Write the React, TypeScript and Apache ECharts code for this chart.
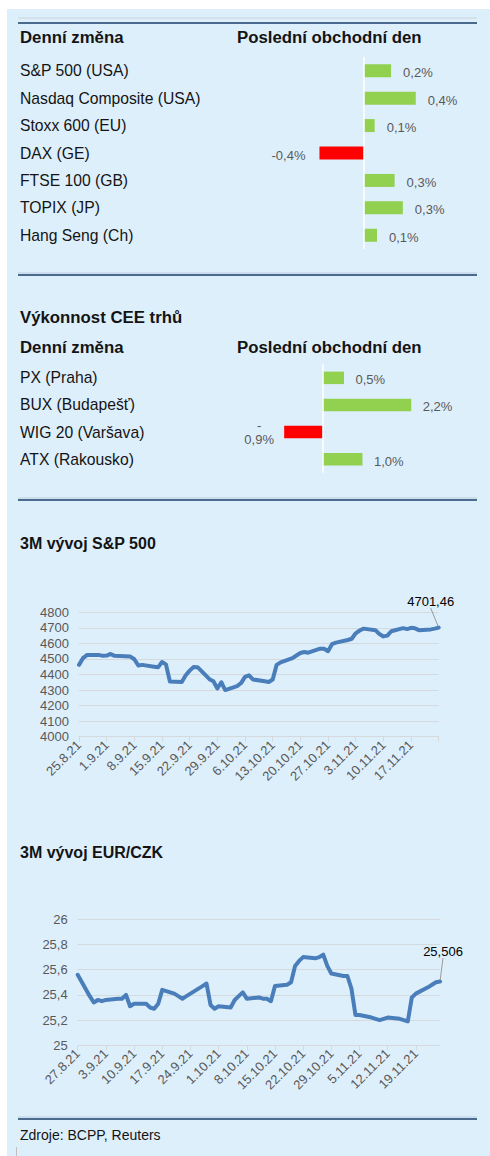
import React, { useEffect, useRef } from 'react';
import * as echarts from 'echarts';

const topNames = ['S&P 500 (USA)', 'Nasdaq Composite (USA)', 'Stoxx 600 (EU)', 'DAX (GE)', 'FTSE 100 (GB)', 'TOPIX (JP)', 'Hang Seng (Ch)'];
const topValues = [0.23, 0.44, 0.09, -0.38, 0.26, 0.33, 0.11];

const ceeNames = ['PX (Praha)', 'BUX (Budapešť)', 'WIG 20 (Varšava)', 'ATX (Rakousko)'];
const ceeValues = [0.52, 2.16, -0.94, 0.97];

const spDates = [
  '25.8.21', '26.8.21', '27.8.21',
  '30.8.21', '31.8.21', '1.9.21', '2.9.21', '3.9.21',
  '7.9.21', '8.9.21', '9.9.21', '10.9.21',
  '13.9.21', '14.9.21', '15.9.21', '16.9.21', '17.9.21',
  '20.9.21', '21.9.21', '22.9.21', '23.9.21', '24.9.21',
  '27.9.21', '28.9.21', '29.9.21', '30.9.21', '1.10.21',
  '4.10.21', '5.10.21', '6.10.21', '7.10.21', '8.10.21',
  '11.10.21', '12.10.21', '13.10.21', '14.10.21', '15.10.21',
  '18.10.21', '19.10.21', '20.10.21', '21.10.21', '22.10.21',
  '25.10.21', '26.10.21', '27.10.21', '28.10.21', '29.10.21',
  '1.11.21', '2.11.21', '3.11.21', '4.11.21', '5.11.21',
  '8.11.21', '9.11.21', '10.11.21', '11.11.21', '12.11.21',
  '15.11.21', '16.11.21', '17.11.21', '18.11.21', '19.11.21',
  '22.11.21', '23.11.21', '24.11.21',
];
const spValues = [
  4462, 4505, 4525,
  4526, 4520, 4522, 4532, 4520,
  4515, 4498, 4458, 4462,
  4450, 4446, 4480, 4465, 4355,
  4352, 4395, 4425, 4448, 4447,
  4370, 4356, 4310, 4350, 4300,
  4325, 4345, 4385, 4395, 4368,
  4356, 4352, 4368, 4462, 4478,
  4505, 4522, 4538, 4545, 4540,
  4566, 4565, 4550, 4595, 4605,
  4622, 4630, 4665, 4683, 4695,
  4685, 4660, 4645, 4650, 4678,
  4698, 4692, 4700, 4697, 4685,
  4690, 4695, 4701.46,
];

const czkDates = [
  '27.8.21',
  '30.8.21', '31.8.21', '1.9.21', '2.9.21', '3.9.21',
  '6.9.21', '7.9.21', '8.9.21', '9.9.21', '10.9.21',
  '13.9.21', '14.9.21', '15.9.21', '16.9.21', '17.9.21',
  '20.9.21', '21.9.21', '22.9.21', '23.9.21', '24.9.21',
  '27.9.21', '28.9.21', '29.9.21', '30.9.21', '1.10.21',
  '4.10.21', '5.10.21', '6.10.21', '7.10.21', '8.10.21',
  '11.10.21', '12.10.21', '13.10.21', '14.10.21', '15.10.21',
  '18.10.21', '19.10.21', '20.10.21', '21.10.21', '22.10.21',
  '25.10.21', '26.10.21', '27.10.21', '28.10.21', '29.10.21',
  '1.11.21', '2.11.21', '3.11.21', '4.11.21', '5.11.21',
  '8.11.21', '9.11.21', '10.11.21', '11.11.21', '12.11.21',
  '15.11.21', '16.11.21', '17.11.21', '18.11.21', '19.11.21',
  '22.11.21', '23.11.21', '24.11.21', '25.11.21',
];
const czkValues = [
  25.56,
  25.39, 25.34, 25.36, 25.35, 25.36,
  25.37, 25.37, 25.40, 25.31, 25.33,
  25.33, 25.30, 25.29, 25.33, 25.44,
  25.41, 25.39, 25.37, 25.39, 25.41,
  25.47, 25.49, 25.32, 25.29, 25.31,
  25.30, 25.36, 25.39, 25.42, 25.37,
  25.38, 25.37, 25.37, 25.35, 25.47,
  25.48, 25.50, 25.63, 25.67, 25.70,
  25.69, 25.70, 25.72, 25.63, 25.57,
  25.55, 25.55, 25.45, 25.24, 25.24,
  25.22, 25.21, 25.20, 25.21, 25.22,
  25.21, 25.20, 25.19, 25.38, 25.41,
  25.46, 25.48, 25.50, 25.506,
];

const spAxis = { min: 4000, max: 4800, step: 100 };
const czkAxis = { min: 25, max: 26, step: 0.2 };

const FONT = '"Liberation Sans", Arial, sans-serif';
const GREEN = '#92d050';
const RED = '#ff0000';
const LINE = '#4a7ebb';
const GRIDC = '#d6d9dc';
const LABELC = '#595959';
const DARK = '#141414';

function parseDate(s: string) {
  const [d, m, y] = s.split('.').map(Number);
  return Date.UTC(2000 + y, m - 1, d);
}
function fmtDate(t: number) {
  const dt = new Date(t);
  return `${dt.getUTCDate()}.${dt.getUTCMonth() + 1}.${String(dt.getUTCFullYear()).slice(2)}`;
}
function dayRange(first: string, last: string) {
  const out: string[] = [];
  const end = parseDate(last);
  for (let t = parseDate(first); t <= end; t += 86400000) out.push(fmtDate(t));
  return out;
}
function lineData(days: string[], dates: string[], values: number[]) {
  return days.map((day) => {
    const i = dates.indexOf(day);
    if (i < 0) return '-';
    if (i === dates.length - 1) {
      return { value: values[i], symbol: 'circle', symbolSize: 3, label: { show: true } };
    }
    return values[i];
  });
}
const pct = (v: number) => Math.abs(v).toFixed(1).replace('.', ',') + '%';
const comma = (v: number) => String(v).replace('.', ',');

export default function App() {
  const ref = useRef<HTMLDivElement>(null);
  useEffect(() => {
    if (!ref.current) return;
    const chart = echarts.init(ref.current, undefined, { renderer: 'svg' });

    const spDays = dayRange(spDates[0], spDates[spDates.length - 1]);
    const czkDays = dayRange(czkDates[0], czkDates[czkDates.length - 1]);

    const hLine = (y: number) => [
      { type: 'line', shape: { x1: 18, y1: y - 2, x2: 477, y2: y - 2 }, style: { stroke: '#b9cde0', lineWidth: 1 } },
      { type: 'line', shape: { x1: 18, y1: y, x2: 477, y2: y }, style: { stroke: '#4a6a8e', lineWidth: 2 } },
    ];
    const text = (x: number, y: number, t: string, size: number, bold: boolean) => ({
      type: 'text', x, y,
      style: { text: t, fontSize: size, fontWeight: bold ? 'bold' : 'normal', fontFamily: FONT, fill: DARK, verticalAlign: 'middle' },
    });

    const barLabel = {
      show: true, distance: 12, offset: [0, 2], color: LABELC, fontSize: 13, fontFamily: FONT,
    };
    const nameAxis = (gridIndex: number, data: string[], pad: number) => ({
      gridIndex, type: 'category', inverse: true, data,
      axisLine: { show: false, onZero: false }, axisTick: { show: false }, splitLine: { show: false },
      axisLabel: { interval: 0, align: 'left', margin: 0, color: DARK, fontSize: 15.7, fontFamily: FONT, padding: [0, 0, pad, 0] },
    });
    const zeroLine = {
      silent: true, symbol: 'none', label: { show: false },
      lineStyle: { color: '#ffffff', width: 1.5, type: 'solid' }, data: [{ xAxis: 0 }],
    };

    const dateAxis = (gridIndex: number, days: string[]) => ({
      gridIndex, type: 'category', data: days, boundaryGap: false,
      axisLine: { lineStyle: { color: GRIDC, width: 1 } },
      axisTick: { length: 5, interval: (i: number) => i % 7 === 0, lineStyle: { color: GRIDC } },
      axisLabel: {
        rotate: 45, margin: 6, color: LABELC, fontSize: 13, fontFamily: FONT,
        interval: (i: number) => i % 7 === 0 && i < days.length - 1,
      },
      splitLine: { show: false },
    });
    const valAxis = (gridIndex: number, a: { min: number; max: number; step: number }) => ({
      gridIndex, type: 'value', min: a.min, max: a.max, interval: a.step,
      axisLine: { show: false }, axisTick: { show: false },
      axisLabel: { margin: 10, color: LABELC, fontSize: 13, fontFamily: FONT, formatter: (v: number) => comma(Math.round(v * 10) / 10) },
      splitLine: { lineStyle: { color: GRIDC, width: 1 } },
    });
    const lineSeries = (idx: number, data: any[], dx: number, dy: number) => ({
      type: 'line', xAxisIndex: idx, yAxisIndex: idx, data, connectNulls: true,
      symbol: 'none', showSymbol: true, showAllSymbol: true,
      itemStyle: { color: LINE },
      lineStyle: { color: LINE, width: 4, cap: 'round', join: 'round' },
      label: { show: false, position: 'top', color: '#000', fontSize: 13, fontFamily: FONT, formatter: (p: any) => comma(p.value) },
      labelLine: { show: true, lineStyle: { color: '#9a9a9a', width: 1 } },
      labelLayout: () => ({ dx, dy }),
    });

    chart.setOption({
      animation: false,
      backgroundColor: 'transparent',
      textStyle: { fontFamily: FONT },
      graphic: [
        { type: 'line', shape: { x1: 18, y1: 18, x2: 477, y2: 18 }, style: { stroke: '#c9d2da', lineWidth: 1 } },
        { type: 'line', shape: { x1: 18, y1: 23, x2: 477, y2: 23 }, style: { stroke: '#4a6a8e', lineWidth: 2 } },
        ...hLine(275),
        ...hLine(500),
        ...hLine(1119),
        text(20, 37, 'Denní změna', 16.8, true),
        text(237, 37, 'Poslední obchodní den', 16.8, true),
        text(20, 317, 'Výkonnost CEE trhů', 16.8, true),
        text(20, 347, 'Denní změna', 16.8, true),
        text(237, 347, 'Poslední obchodní den', 16.8, true),
        text(20, 543, '3M vývoj S&P 500', 16, true),
        text(20, 852, '3M vývoj EUR/CZK', 16, true),
        text(20, 1135, 'Zdroje: BCPP, Reuters', 14, false),
        { type: 'line', shape: { x1: 16.5, y1: 1147, x2: 16.5, y2: 1156 }, style: { stroke: '#c0c0c0', lineWidth: 1 } },
      ],
      grid: [
        { left: 20, right: 12, top: 57, height: 192 },
        { left: 20, right: 12, top: 364.3, height: 108.4 },
        { left: 79, right: 51.3, top: 612.3, height: 124.4 },
        { left: 77.7, right: 50, top: 919.3, height: 126 },
      ],
      xAxis: [
        { gridIndex: 0, type: 'value', min: -2.93, max: 0.97, show: false },
        { gridIndex: 1, type: 'value', min: -7.383, max: 3.788, show: false },
        dateAxis(2, spDays),
        dateAxis(3, czkDays),
      ],
      yAxis: [
        nameAxis(0, topNames, 7),
        nameAxis(1, ceeNames, 4),
        valAxis(2, spAxis),
        valAxis(3, czkAxis),
      ],
      series: [
        {
          type: 'bar', xAxisIndex: 0, yAxisIndex: 0, barWidth: 13,
          data: topValues.map((v) => ({
            value: v, itemStyle: { color: v < 0 ? RED : GREEN },
            label: { position: v < 0 ? 'left' : 'right', distance: v < 0 ? 14 : 12 },
          })),
          label: { ...barLabel, formatter: (p: any) => (p.value < 0 ? '-' : '') + pct(p.value) },
          markLine: zeroLine,
        },
        {
          type: 'bar', xAxisIndex: 1, yAxisIndex: 1, barWidth: 12.5,
          data: ceeValues.map((v) => ({
            value: v, itemStyle: { color: v < 0 ? RED : GREEN },
            label: v < 0
              ? { position: 'left', align: 'center', distance: 25, lineHeight: 14, offset: [0, 0] }
              : { position: 'right', distance: 11.5 },
          })),
          label: { ...barLabel, formatter: (p: any) => (p.value < 0 ? '-\n' : '') + pct(p.value) },
          markLine: zeroLine,
        },
        lineSeries(2, lineData(spDays, spDates, spValues), -8, -13),
        lineSeries(3, lineData(czkDays, czkDates, czkValues), 3, -17),
      ],
    });
    return () => chart.dispose();
  }, []);

  return (
    <div style={{ position: 'absolute', left: 0, top: 0, width: 490, height: 1156, background: '#ffffff' }}>
      <div style={{ position: 'absolute', left: 7, top: 9, width: 483, height: 1147, background: '#deeffc' }} />
      <div ref={ref} style={{ position: 'absolute', left: 0, top: 0, width: 490, height: 1156 }} />
    </div>
  );
}
